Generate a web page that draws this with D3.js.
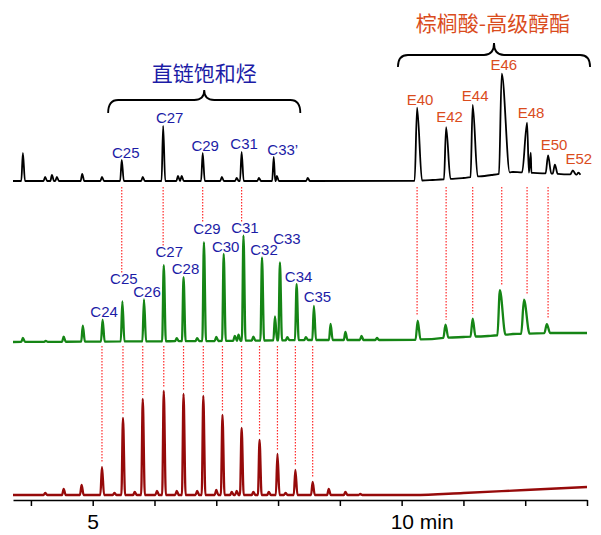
<!DOCTYPE html>
<html>
<head>
<meta charset="utf-8">
<script src="https://cdn.jsdelivr.net/npm/d3@7"></script>
<style>
  body { margin: 0; background: #fff; }
  text { font-family: 'Liberation Sans', Arial, sans-serif; }
  .cjk { font-family: 'Noto Sans CJK SC', sans-serif; }
</style>
</head>
<body>
<svg width="601" height="535"></svg>
<script>
// retention time axis (min)
const xTicks = [4, 5, 6, 7, 8, 9, 10, 11, 12, 13];
const tickLabels = ['5', '10 min'];
const labelledTicks = [5, 10];

// baseline drift [time, level] for each trace
const blackBase = [[3.71, 0], [10.15, 0], [10.5, 1], [11.0, 3], [11.45, 6], [11.8, 9], [12.2, 8], [12.6, 7], [13.0, 6]];
const greenBase = [[3.71, 0], [7.0, 1], [8.5, 2], [10.2, 2], [10.6, 4], [11.0, 5], [11.4, 6], [11.8, 8], [12.4, 9], [13.0, 9]];
const redBase = [[3.71, 0], [9.6, 0], [10.2, 0], [11.0, 2], [12.0, 5], [13.0, 8]];

// peaks [time, height above baseline, half width, right width]
const blackPeaks = [[3.87, 28], [4.23, 4], [4.34, 6], [4.42, 4], [4.83, 7], [5.15, 4], [5.47, 21], [5.81, 4],
  [6.14, 55], [6.38, 5], [6.44, 5], [6.78, 28], [7.09, 4], [7.33, 3], [7.41, 29], [7.69, 3], [7.93, 24], [7.98, 5],
  [8.48, 3], [10.25, 73, 0.04, 0.08], [10.72, 52, 0.035, 0.07], [11.15, 72, 0.035, 0.08], [11.62, 100, 0.045, 0.13],
  [12.03, 50, 0.08, 0.07], [12.09, 20, 0.03], [12.37, 18, 0.04], [12.48, 9, 0.035], [12.77, 4, 0.04], [12.86, 2]];
const greenPeaks = [[3.87, 4], [4.24, 1], [4.53, 5], [4.84, 16], [5.16, 22], [5.48, 40], [5.83, 42], [6.15, 76],
  [6.36, 3], [6.47, 64], [6.69, 3], [6.80, 99], [7.0, 4], [7.12, 87], [7.30, 5], [7.36, 6], [7.44, 105], [7.6, 4],
  [7.74, 83], [7.95, 24], [8.03, 78], [8.15, 3], [8.30, 56], [8.45, 3], [8.58, 34], [8.85, 16], [9.09, 8], [9.35, 4],
  [9.60, 2], [10.26, 19, 0.035], [10.71, 13, 0.035], [11.15, 18, 0.035], [11.59, 45, 0.04, 0.09], [11.98, 34, 0.045, 0.09],
  [12.35, 9, 0.04]];
const redPeaks = [[4.23, 2], [4.53, 6], [4.82, 10], [5.15, 28], [5.35, 2], [5.49, 77], [5.68, 3], [5.81, 96],
  [6.04, 4], [6.15, 104], [6.36, 4], [6.47, 101], [6.69, 4], [6.79, 99], [7.0, 5], [7.10, 80], [7.25, 3], [7.33, 4],
  [7.41, 67], [7.6, 3], [7.70, 55], [7.85, 3], [7.99, 41], [8.12, 2], [8.28, 25], [8.56, 13], [8.82, 6], [9.09, 3],
  [9.33, 1]];

// peak labels
const alkaneTop = [['C25', 5.47], ['C27', 6.14], ['C29', 6.78], ['C31', 7.41], ['C33\u2019', 7.93]];
const esterTop = [['E40', 10.25], ['E42', 10.72], ['E44', 11.15], ['E46', 11.62], ['E48', 12.03], ['E50', 12.37], ['E52', 12.77]];
const alkaneMid = [['C24', 5.16], ['C25', 5.48], ['C26', 5.83], ['C27', 6.15], ['C28', 6.47], ['C29', 6.80], ['C30', 7.12],
  ['C31', 7.44], ['C32', 7.74], ['C33', 8.03], ['C34', 8.30], ['C35', 8.58]];
const alkaneLow = [5.15, 5.49, 5.81, 6.15, 6.47, 6.79, 7.10, 7.41, 7.70, 7.99, 8.28, 8.56];

const render = () => {
  const svg = d3.select('svg');
  const blue = '#1c1ca6';
  const orange = '#da4c1d';

  const xScale = d3.scaleLinear().domain([3.71, 13]).range([13, 587]);

  //one y scale per trace, stacked
  const yOf = base => d3.scaleLinear().domain([0, 100]).range([base, base - 100]);
  const traces = [
    {peaks: blackPeaks, base: blackBase, y: yOf(181), color: '#000', width: 1.8},
    {peaks: greenPeaks, base: greenBase, y: yOf(342), color: '#158515', width: 2.3},
    {peaks: redPeaks, base: redBase, y: yOf(495), color: '#960a0a', width: 2.3}
  ];

  //turn peak list into line points
  traces.forEach(tr => {
    tr.baseAt = d3.scaleLinear().domain(tr.base.map(k => k[0])).range(tr.base.map(k => k[1])).clamp(true);
    const pts = [];
    tr.peaks.forEach(p => {
      const wl = p[2] || 0.026;
      const wr = p[3] || wl * 1.3;
      pts.push([p[0] - wl, tr.baseAt(p[0] - wl)], [p[0], tr.baseAt(p[0]) + p[1]], [p[0] + wr, tr.baseAt(p[0] + wr)]);
    });
    tr.base.forEach(k => {
      if (!tr.peaks.some(p => Math.abs(k[0] - p[0]) < 0.15)) pts.push(k);
    });
    tr.points = pts.sort((a, b) => a[0] - b[0]);
    tr.topAt = t => {
      const p = tr.peaks.find(q => Math.abs(q[0] - t) < 0.01);
      return tr.y(tr.baseAt(p[0]) + p[1]);
    };
  });

  //dotted guide lines first, so the traces sit on top
  const guides = svg.append('g')
    .attr('stroke', '#ff2b2b')
    .attr('stroke-width', 1.2)
    .attr('stroke-dasharray', '1.5,1.5');
  const black = traces[0], green = traces[1], red = traces[2];

  // black C peaks -> green labels
  alkaneTop.slice(0, 4).forEach(d => {
    const m = alkaneMid.find(g => g[0] === d[0]);
    const nudge = labelNudge['g' + m[0]] || [3, 3];
    guides.append('line')
      .attr('x1', xScale(d[1])).attr('x2', xScale(d[1]))
      .attr('y1', black.y(0) + 6)
      .attr('y2', green.topAt(m[1]) - nudge[1] - 11);
  });
  // black esters -> green peaks
  esterTop.slice(0, 6).forEach(d => {
    const g = green.peaks.find(p => Math.abs(p[0] - d[1]) < 0.06);
    guides.append('line')
      .attr('x1', xScale(d[1])).attr('x2', xScale(d[1]))
      .attr('y1', black.y(0) + 6)
      .attr('y2', green.topAt(g[0]) - 5);
  });
  // green -> red
  alkaneLow.forEach(t => {
    guides.append('line')
      .attr('x1', xScale(t)).attr('x2', xScale(t))
      .attr('y1', green.y(0) + 4)
      .attr('y2', red.topAt(t) - 4);
  });

  //traces
  traces.forEach(tr => {
    const line = d3.line()
      .x(d => xScale(d[0]))
      .y(d => tr.y(d[1]))
      .curve(d3.curveMonotoneX);
    svg.append('path')
      .datum(tr.points)
      .attr('fill', 'none')
      .attr('stroke', tr.color)
      .attr('stroke-width', tr.width)
      .attr('stroke-linejoin', 'round')
      .attr('d', line);
  });

  //peak labels
  const addLabels = (list, tr, color, prefix) => {
    list.forEach(d => {
      const n = labelNudge[prefix + d[0]] || [3, 3];
      svg.append('text')
        .attr('x', xScale(d[1]) + n[0])
        .attr('y', tr.topAt(d[1]) - n[1])
        .attr('text-anchor', 'middle')
        .attr('font-size', 15)
        .attr('fill', color)
        .text(d[0]);
    });
  };
  addLabels(alkaneTop, black, blue, 'b');
  addLabels(esterTop, black, orange, 'b');
  addLabels(alkaneMid, green, blue, 'g');

  //braces and group titles
  const brace = (t1, t2, yFlat, yTip, yEnd) => {
    const x1 = xScale(t1), x2 = xScale(t2), xm = (x1 + x2) / 2, r = 10;
    return `M${x1},${yEnd} Q${x1},${yFlat} ${x1 + r},${yFlat} L${xm - r},${yFlat} Q${xm},${yFlat} ${xm},${yTip}` +
      ` Q${xm},${yFlat} ${xm + r},${yFlat} L${x2 - r},${yFlat} Q${x2},${yFlat} ${x2},${yEnd}`;
  };
  svg.append('path').attr('d', brace(5.25, 8.36, 100, 90, 113))
    .attr('fill', 'none').attr('stroke', '#000').attr('stroke-width', 1.8);
  svg.append('path').attr('d', brace(9.94, 13.05, 55, 43, 67))
    .attr('fill', 'none').attr('stroke', '#000').attr('stroke-width', 1.8);
  svg.append('text').attr('class', 'cjk')
    .attr('x', xScale((5.25 + 8.36) / 2)).attr('y', 81)
    .attr('text-anchor', 'middle').attr('font-size', 21).attr('fill', blue)
    .text('直链饱和烃');
  svg.append('text').attr('class', 'cjk')
    .attr('x', xScale((9.94 + 13.05) / 2) - 1).attr('y', 31)
    .attr('text-anchor', 'middle').attr('font-size', 21).attr('fill', orange)
    .text('棕榈酸-高级醇酯');

  //x axis
  const xAxis = svg.append('g')
    .attr('transform', 'translate(0, 500)')
    .call(d3.axisBottom(xScale)
      .tickValues(xTicks)
      .tickSize(6)
      .tickSizeOuter(0)
      .tickFormat(d => labelledTicks.includes(d) ? tickLabels[labelledTicks.indexOf(d)] : ''));
  xAxis.selectAll('.domain, .tick line').attr('stroke', '#000').attr('stroke-width', 1.5);
  xAxis.selectAll('.tick text')
    .attr('font-family', "'Liberation Sans', Arial, sans-serif")
    .attr('font-size', 21)
    .attr('fill', '#000')
    .attr('dy', '0.98em')
    .attr('y', 8);
  //keep "10" centred on its tick, let "min" run to the right
  xAxis.selectAll('.tick text').filter(d => d === 10)
    .attr('text-anchor', 'start')
    .attr('x', -11.5);
};

//small label offsets from their peak tops [dx, dy]
const labelNudge = {
  'bC33\u2019': [9, 2], bE40: [3, 3], bE42: [3.5, 5], bE44: [2.5, 4], bE46: [2, 4], bE48: [4, 5], bE50: [6, 5], bE52: [6, 6],
  bC25: [4, 2], bC27: [6.5, 3], bC29: [2.5, 2], bC31: [2.5, 3],
  gC24: [1.5, 3], gC25: [1.5, 17], gC26: [3, 2], gC27: [5.5, 8], gC28: [2, 3], gC29: [3, 8], gC30: [2, 2],
  gC31: [1.5, 3], gC32: [2, 3], gC33: [7, 18], gC34: [2, 2], gC35: [3.5, 4]
};

render();
</script>
</body>
</html>
